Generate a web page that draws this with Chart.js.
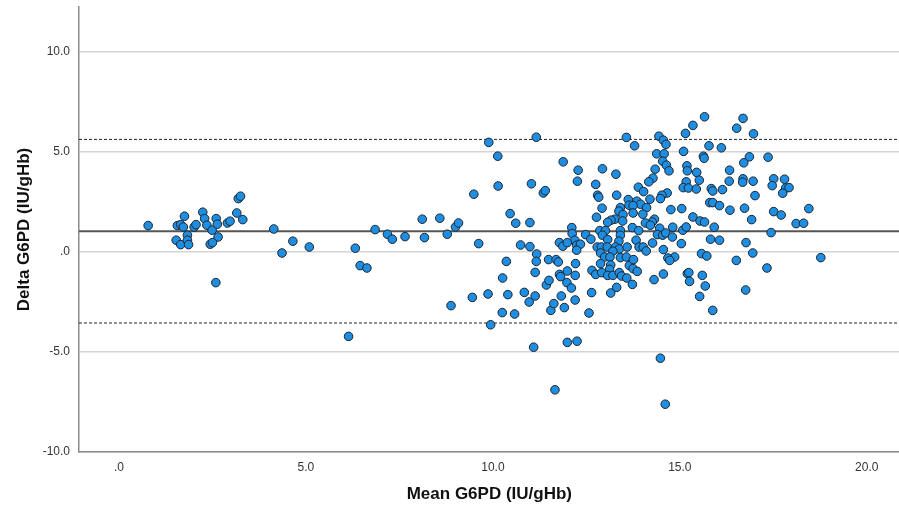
<!DOCTYPE html>
<html>
<head>
<meta charset="utf-8">
<script src="https://cdn.jsdelivr.net/npm/chart.js@4"></script>
<style>
  html, body { margin: 0; padding: 0; background: #ffffff; overflow: hidden; }
  #wrap { width: 899px; height: 511px; overflow: hidden; }
</style>
</head>
<body>
<div id="wrap"><canvas id="baChart" width="905" height="511"></canvas></div>
<script>
const meanG6PD = [
  0.78, 1.56, 1.65, 1.75, 1.72, 1.53, 1.65, 1.83, 1.83, 1.86,
  2.01, 2.06, 2.24, 2.29, 2.35, 2.49, 2.60, 2.63, 2.65, 2.44,
  2.50, 2.59, 2.90, 2.97, 3.15, 3.31, 3.19, 3.25, 4.14, 4.65,
  4.36, 5.09, 6.32, 6.45, 6.63, 6.14, 6.85, 7.18, 7.31, 7.65,
  8.11, 8.17, 8.58, 8.78, 9.00, 9.08, 9.62, 9.49, 10.14, 8.88,
  9.45, 9.87, 9.94, 9.89, 11.16, 10.13, 11.03, 11.35, 11.40, 10.46,
  10.61, 10.99, 10.74, 10.99, 11.17, 11.16, 10.36, 11.49, 10.26, 11.13,
  10.40, 10.84, 11.13, 10.97, 11.43, 11.50, 11.55, 10.25, 10.58, 11.09,
  13.57, 13.79, 11.88, 12.28, 12.26, 12.93, 13.29, 12.75, 12.80, 12.83,
  13.31, 13.62, 13.85, 13.64, 13.89, 12.92, 13.41, 13.37, 13.48, 12.77,
  13.26, 13.16, 13.07, 13.47, 12.11, 13.73, 13.90, 12.86, 13.01, 12.93,
  13.41, 13.41, 12.48, 13.07, 12.62, 12.12, 12.19, 11.78, 11.87, 11.99,
  12.24, 12.34, 12.24, 12.79, 12.90, 13.37, 13.06, 13.28, 13.38, 13.83,
  13.91, 13.59, 12.88, 12.99, 13.21, 13.13, 13.41, 13.57, 11.69, 11.75,
  12.21, 12.88, 13.15, 13.65, 13.76, 12.65, 13.12, 13.75, 13.86, 12.75,
  12.91, 13.07, 13.21, 13.38, 13.44, 13.58, 13.73, 13.31, 13.15, 12.64,
  11.78, 11.81, 11.99, 12.20, 11.98, 12.10, 11.83, 12.20, 11.63, 11.91,
  12.57, 11.99, 12.25, 11.66, 15.66, 15.35, 15.15, 14.44, 14.56, 14.63,
  15.78, 16.11, 14.38, 14.58, 15.10, 15.63, 15.65, 14.54, 14.64, 14.71,
  14.34, 15.19, 15.20, 15.45, 15.52, 15.17, 16.33, 16.32, 14.28, 14.17,
  14.03, 15.09, 15.23, 15.44, 15.84, 15.88, 16.14, 14.66, 14.52, 14.48,
  14.20, 13.95, 14.11, 13.75, 15.80, 15.88, 16.06, 16.34, 14.76, 15.05,
  15.35, 15.54, 15.66, 15.92, 13.75, 14.01, 14.32, 14.26, 14.08, 14.21,
  14.46, 14.81, 15.08, 15.17, 14.40, 14.54, 14.62, 14.80, 15.04, 14.27,
  14.02, 14.10, 14.56, 15.82, 16.06, 15.58, 15.72, 14.86, 14.68, 14.73,
  14.31, 14.56, 15.20, 15.24, 15.26, 15.60, 15.68, 15.53, 15.88, 14.48,
  14.61, 16.69, 16.52, 16.97, 16.86, 17.36, 16.71, 16.69, 16.68, 16.96,
  17.51, 17.47, 17.80, 17.83, 17.92, 17.75, 17.01, 16.73, 16.92, 17.51,
  17.71, 18.45, 18.11, 18.31, 17.44, 16.77, 16.95, 16.51, 17.33, 18.77,
  16.76
];
const deltaG6PD = [
  1.32, 1.32, 1.37, 1.79, 1.25, 0.59, 0.37, 0.84, 0.59, 0.37,
  1.25, 1.37, 1.99, 1.67, 1.34, 1.09, 1.67, 1.39, 0.75, 0.39,
  0.47, -1.53, 1.45, 1.54, 1.95, 1.62, 2.67, 2.79, 1.15, 0.54,
  -0.05, 0.25, 0.19, -0.68, -0.80, -4.22, 1.12, 0.89, 0.64, 0.77,
  1.64, 0.72, 1.69, 0.89, 1.25, 1.45, 0.42, 2.89, 3.30, -2.68,
  -2.27, -2.10, -3.64, 5.48, 5.74, 4.79, 3.41, 2.95, 3.07, 1.92,
  1.44, 1.47, 0.35, 0.27, -0.10, -0.47, -0.47, -0.38, -1.30, -1.02,
  -2.13, -2.02, -2.20, -2.50, -1.65, -1.42, -2.92, -3.03, -3.10, -4.76,
  5.73, 5.31, 4.51, 4.09, 3.54, 4.16, 3.89, 3.38, 2.84, 2.74,
  2.84, 2.62, 2.54, 2.34, 3.24, 2.19, 2.22, 2.04, 1.87, 1.74,
  1.64, 1.59, 1.49, 1.55, 1.22, 1.22, 1.07, 1.07, 1.07, 0.84,
  1.07, 0.84, 0.87, 0.62, 0.64, 0.92, 0.59, 0.47, 0.29, 0.47,
  0.34, 0.39, 0.09, 0.25, 0.25, 0.54, 0.25, 0.25, 0.15, 0.59,
  0.25, 0.25, -0.05, -0.25, 0.04, -0.25, -0.28, -0.25, -0.38, -0.50,
  -0.58, -0.58, -0.65, -0.68, -0.38, -0.92, -0.87, -0.83, -0.97, -1.12,
  -1.03, -1.17, -1.17, -1.03, -1.20, -1.30, -1.62, -1.77, -2.05, -2.03,
  -1.12, -1.23, -0.95, -1.17, -1.53, -1.80, -2.20, -2.40, -2.58, -2.78,
  -3.05, -4.52, -4.46, -6.89, 6.76, 6.33, 5.93, 5.79, 5.59, 5.38,
  5.31, 5.21, 4.91, 4.91, 5.03, 4.79, 4.69, 4.54, 4.34, 4.06,
  4.14, 4.31, 4.06, 3.98, 3.59, 3.51, 4.09, 3.54, 3.69, 3.51,
  3.02, 3.22, 3.20, 3.15, 3.17, 3.05, 3.12, 2.95, 2.84, 2.67,
  2.64, 2.39, 2.22, 2.32, 2.47, 2.47, 2.32, 2.09, 2.12, 2.17,
  1.75, 1.55, 1.50, 1.24, 1.95, 1.89, 1.64, 1.50, 1.45, 1.34,
  1.19, 1.24, 1.09, 1.25, 0.87, 0.84, 0.95, 0.75, 0.42, 0.45,
  0.25, 0.05, 0.12, 0.64, 0.59, -0.08, -0.20, -0.25, -0.30, -0.42,
  -1.38, -1.10, -1.08, -1.03, -1.47, -1.17, -1.70, -2.22, -2.92, -5.31,
  -7.61, 6.68, 6.19, 5.91, 4.76, 4.74, 4.46, 3.66, 3.49, 3.54,
  3.66, 3.32, 3.64, 3.20, 3.22, 2.94, 2.82, 2.19, 1.62, 2.02,
  1.85, 2.17, 1.42, 1.44, 0.97, 0.47, -0.05, -0.42, -0.80, -0.28,
  -1.90
];

// Bias and limits of agreement
const meanDiff = 1.04;
const upperLoA = 5.63;
const lowerLoA = -3.55;

// Axis ticks
const xTickValues = [0, 5, 10, 15, 20];
const xTickLabels = ['.0', '5.0', '10.0', '15.0', '20.0'];
const yTickValues = [10, 5, 0, -5, -10];
const yTickLabels = ['10.0', '5.0', '.0', '-5.0', '-10.0'];

const X_MIN = -1.07, X_MAX = 20.88;
const Y_MIN = -10, Y_MAX = 12.25;

function hLine(y) {
    return [{ x: X_MIN, y: y }, { x: X_MAX, y: y }];
}

const points = meanG6PD.map((m, i) => ({ x: m, y: deltaG6PD[i] }));
const font = "'Liberation Sans', Arial, sans-serif";

const ctx = document.getElementById('baChart').getContext('2d');
new Chart(ctx, {
    type: 'scatter',
    data: {
        datasets: [
            {
                label: 'Difference',
                data: points,
                backgroundColor: '#1f8de0',
                borderColor: '#1c2530',
                borderWidth: 1,
                pointRadius: 4.3,
                order: 1,
            },
            {
                type: 'line',
                label: 'Mean',
                data: hLine(meanDiff),
                borderColor: '#555555',
                borderWidth: 2,
                pointRadius: 0,
                order: 2,
            },
            {
                type: 'line',
                label: 'Upper limit',
                data: hLine(upperLoA),
                borderColor: '#222222',
                borderWidth: 1,
                borderDash: [3, 2],
                pointRadius: 0,
                order: 2,
            },
            {
                type: 'line',
                label: 'Lower limit',
                data: hLine(lowerLoA),
                borderColor: '#222222',
                borderWidth: 1,
                borderDash: [3, 2],
                pointRadius: 0,
                order: 2,
            },
        ],
    },
    options: {
        responsive: false,
        animation: false,
        layout: { padding: { top: 7, right: 0, left: 0, bottom: 0 } },
        plugins: {
            legend: { display: false },
            tooltip: { enabled: false },
        },
        scales: {
            x: {
                type: 'linear',
                min: X_MIN,
                max: X_MAX,
                afterBuildTicks: scale => { scale.ticks = xTickValues.map(v => ({ value: v })); },
                afterFit: scale => {
                    scale.height = 59;
                    scale.paddingLeft = 0;
                    scale.paddingRight = 0;
                },
                ticks: {
                    callback: v => xTickLabels[xTickValues.indexOf(v)],
                    color: '#333333',
                    font: { family: font, size: 12 },
                    padding: 8,
                    maxRotation: 0,
                },
                grid: { display: false, drawTicks: false },
                border: { display: true, color: '#8c8c8c', width: 1.5 },
                title: {
                    display: true,
                    text: 'Mean G6PD (IU/gHb)',
                    color: '#111111',
                    font: { family: font, size: 17, weight: 'bold' },
                    padding: { top: 8, bottom: 6 },
                },
            },
            y: {
                type: 'linear',
                min: Y_MIN,
                max: Y_MAX,
                afterBuildTicks: scale => { scale.ticks = yTickValues.map(v => ({ value: v })); },
                afterFit: scale => {
                    scale.width = 79;
                    scale.paddingTop = 0;
                    scale.paddingBottom = 0;
                },
                ticks: {
                    callback: v => yTickLabels[yTickValues.indexOf(v)],
                    color: '#333333',
                    font: { family: font, size: 12 },
                    padding: 9,
                },
                grid: {
                    color: '#d4d4d4',
                    lineWidth: 1.5,
                    drawTicks: false,
                },
                border: { display: true, color: '#8c8c8c', width: 1.5 },
                title: {
                    display: true,
                    text: 'Delta G6PD (IU/gHb)',
                    color: '#111111',
                    font: { family: font, size: 17, weight: 'bold' },
                    padding: { top: 14, bottom: 6 },
                },
            },
        },
    },
});
</script>
</body>
</html>
